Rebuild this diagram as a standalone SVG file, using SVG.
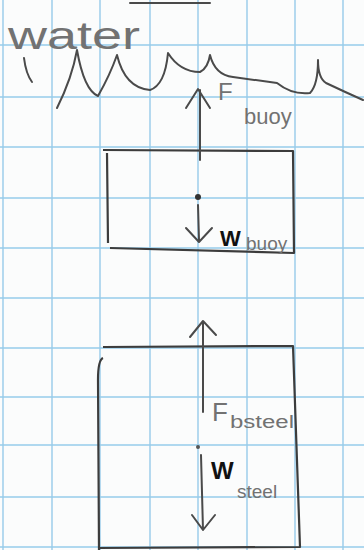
<svg xmlns="http://www.w3.org/2000/svg" width="364" height="550" viewBox="0 0 364 550">
<style>
.grid{stroke:#97cbea;stroke-width:1.4;fill:none}
.ink{stroke:#4a4a4a;stroke-width:2;fill:none;stroke-linecap:round;stroke-linejoin:round}
.box{stroke:#3c3c3c;stroke-width:2.2;fill:none;stroke-linejoin:round}
.lbl{font-family:"Liberation Sans",Arial,sans-serif;fill:#727272}
.w{font-family:"Liberation Sans",Arial,sans-serif;fill:#111;font-weight:bold}
</style>
<rect width="364" height="550" fill="#fbfcfc"/>
<g id="grid">
<path class="grid" d="M3 0V550M52 0V550M100 0V550M150 0V550M198 0V550M247 0V550M295 0V550M343 0V550"/>
<path class="grid" d="M0 45H364M0 97H364M0 147H364M0 198H364M0 248H364M0 298H364M0 348H364M0 397H364M0 445H364M0 497H364M0 547H364"/>
</g>
<g id="top-line"><path class="ink" d="M130 3H210" stroke-width="2.5"/></g>
<g id="water">
<text class="lbl" x="8" y="49" font-size="38" textLength="132" lengthAdjust="spacingAndGlyphs" fill="#8a8a8a">water</text>
<path class="ink" d="M24 58Q26 74 32 82" stroke="#1a1a1a" stroke-width="3"/>
<path class="ink" d="M57 108Q72 78 77 50Q84 90 98 96Q110 75 117 55Q125 88 150 90Q165 85 168 53Q180 72 200 72Q208 68 210 55Q215 75 233 77Q255 80 277 83Q292 95 310 93Q318 85 318 60Q318 78 326 83Q345 92 363 100"/>
</g>
<g id="buoy">
<path class="box" d="M103 150L293 151L294 253L110 248M107 153L108 243"/>
<circle cx="198" cy="197" r="3" fill="#333"/>
</g>
<g id="steel">
<path class="box" d="M103 347L293 346L300 547L98 548M103 358Q98 360 98 380L99 550"/>
<circle cx="198" cy="447" r="2" fill="#555"/>
</g>
<g id="connectors">
<path class="ink" d="M200 90V160"/>
<path class="ink" d="M186 108L198 89L210 108"/>
<path class="ink" d="M198 205L199 240M186 228L199 242L212 228"/>
<path class="ink" d="M203 322V412M190 337L203 321L216 335"/>
<path class="ink" d="M201 455L203 530M192 515L203 530L215 515"/>
</g>
<g id="labels">
<text class="lbl" x="218" y="100" font-size="24">F</text>
<text class="lbl" x="244" y="124" font-size="22">buoy</text>
<text class="w" x="220" y="246" font-size="22">W</text>
<text class="lbl" x="246" y="250" font-size="19">buoy</text>
<text class="lbl" x="212" y="421" font-size="26">F</text>
<text class="lbl" x="230" y="428" font-size="18" textLength="64" lengthAdjust="spacingAndGlyphs">bsteel</text>
<text class="w" x="211" y="479" font-size="24">W</text>
<text class="lbl" x="237" y="498" font-size="19">steel</text>
</g>
</svg>
